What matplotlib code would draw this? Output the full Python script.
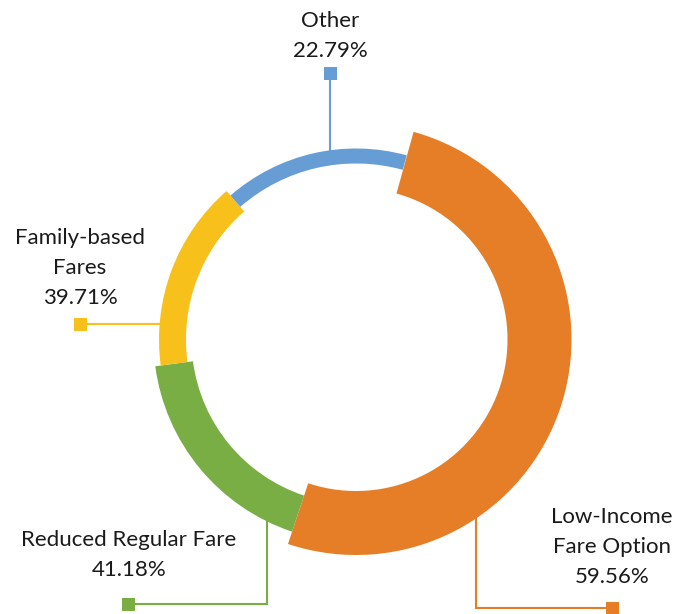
import numpy as np
import matplotlib.pyplot as plt
from matplotlib.patches import Wedge, Rectangle

# answers (multi-select, so shares do not add up to 100)
labels = ['Low-Income\nFare Option', 'Reduced Regular Fare', 'Family-based\nFares', 'Other']
shares = [59.56, 41.18, 39.71, 22.79]
colors = ['#E67E28', '#78AE44', '#F8C01A', '#679DD5']

# ring layout as drawn in the original (degrees, px)
arc_span = [182.9, 64.0, 56.5, 56.5]
band = [64, 38, 27, 15]
start_angle = 74.5
center = (356, 274.5)
mid_r = 183.5

# label boxes: text centre, marker, elbow corner, leader direction
text_xy = [(612, 67), (129, 59), (80, 346), (330, 578)]
marker_xy = [(612, 6), (128, 10), (80, 290), (330, 540.5)]
elbow_xy = [(476, 6), (267, 10), (80, 290), (330, 540.5)]
leader_dir = ['up', 'up', 'right', 'down']

W, H = 675, 614
fig = plt.figure(figsize=(W / 100, H / 100), dpi=100)
ax = fig.add_axes([0, 0, 1, 1])
ax.set_xlim(0, W)
ax.set_ylim(0, H)
ax.set_aspect('equal')
ax.axis('off')

plt.rcParams['font.family'] = ['Lato', 'DejaVu Sans']

cx, cy = center
theta = start_angle
for span, w, col in zip(arc_span, band, colors):
    ax.add_patch(Wedge(center, mid_r + w / 2, theta - span, theta,
                       width=w, facecolor=col, edgecolor='none'))
    theta -= span

for i, lab in enumerate(labels):
    col = colors[i]
    r_out = mid_r + band[i] / 2
    mx, my = marker_xy[i]
    ex, ey = elbow_xy[i]
    if leader_dir[i] in ('up', 'down'):
        dy = np.sqrt(r_out ** 2 - (ex - cx) ** 2)
        ring = (ex, cy - dy if leader_dir[i] == 'up' else cy + dy)
    else:
        dx = np.sqrt(r_out ** 2 - (ey - cy) ** 2)
        ring = (cx - dx, ey)
    ax.plot([mx, ex, ring[0]], [my, ey, ring[1]], color=col, lw=1.5,
            solid_joinstyle='miter', zorder=1)
    ax.add_patch(Rectangle((mx - 6.5, my - 6.5), 13, 13, facecolor=col,
                           edgecolor='none', zorder=2))
    tx, ty = text_xy[i]
    ax.text(tx, ty, f'{lab}\n{shares[i]:.2f}%', ha='center', va='center',
            fontsize=16, color='#1a1a1a', linespacing=1.62)

fig.savefig('out.png', dpi=100)
